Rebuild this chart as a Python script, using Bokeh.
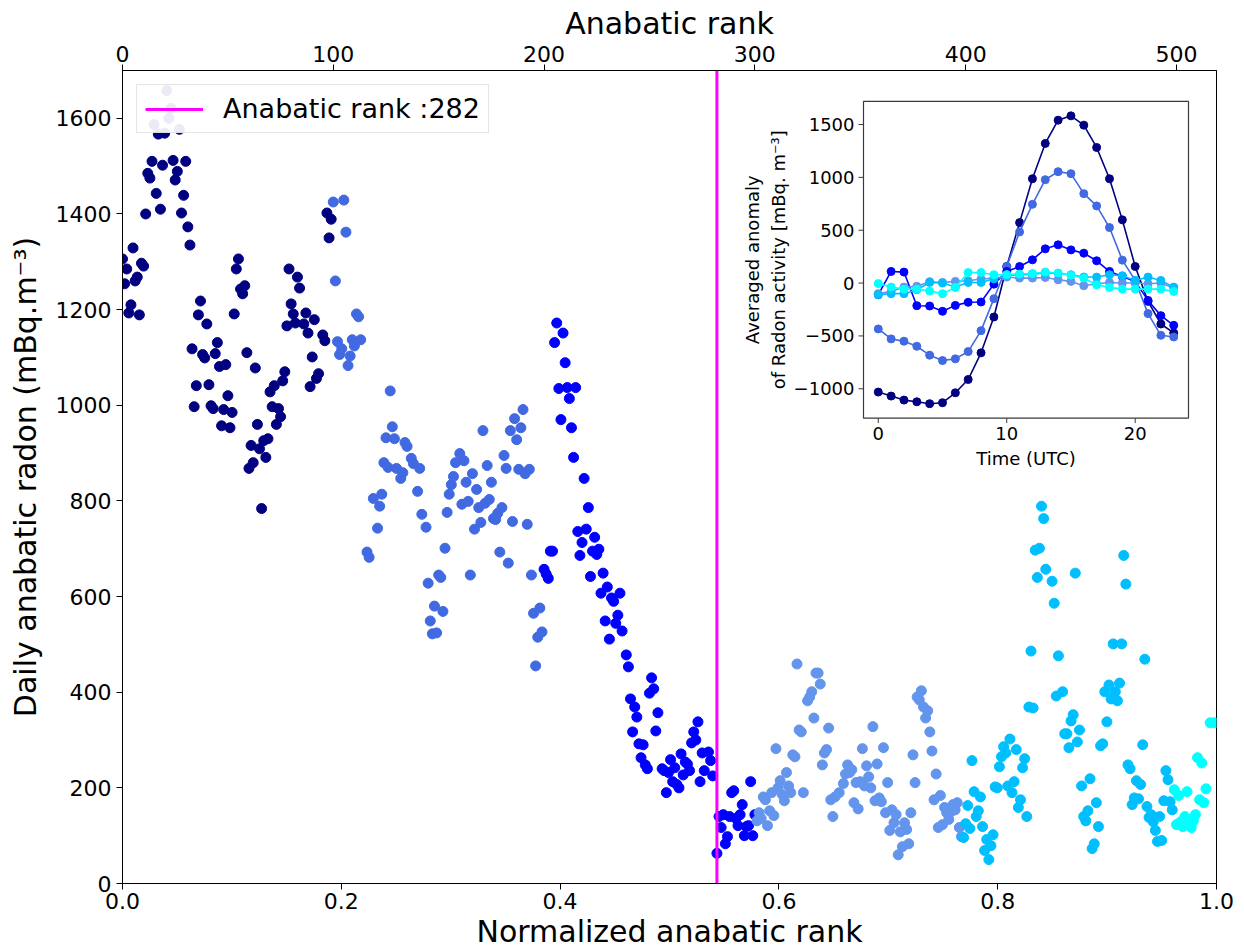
from math import pi
from bokeh.plotting import figure
from bokeh.models import Range1d, LinearAxis, FixedTicker, PrintfTickFormatter
from bokeh.core.properties import value
from bokeh.embed import file_html
from bokeh.resources import INLINE

# ---------------- data ----------------
MAX_RANK = 519
THRESHOLD_RANK = 282

navy_rank = [0, 1, 2, 3, 4, 5, 6, 7, 8, 9, 10, 11, 12, 13, 14, 15, 16, 17, 18, 19,
             20, 21, 22, 23, 24, 25, 26, 27, 28, 29, 30, 31, 32, 33, 34, 35, 36, 37, 38, 39,
             40, 41, 42, 43, 44, 45, 46, 47, 48, 49, 50, 51, 52, 53, 54, 55, 56, 57, 58, 59,
             60, 61, 62, 63, 64, 65, 66, 67, 68, 69, 70, 71, 72, 73, 74, 75, 76, 77, 78, 79,
             80, 81, 82, 83, 84, 86, 87, 88, 89, 90, 91, 92, 93, 95, 96, 97, 98, 99]
navy_radon = [1306, 1254, 1285, 1193, 1210, 1329, 1260, 1268, 1189, 1297, 1291, 1400, 1485, 1475, 1510, 1587, 1443, 1567, 1410, 1502,
              1569, 1658, 1600, 1621, 1512, 1471, 1489, 1577, 1402, 1439, 1510, 1373, 1335, 1118, 997, 1041, 1189, 1218, 1106, 1099,
              1170, 1043, 999, 993, 1108, 1131, 1081, 957, 991, 1085, 1020, 953, 985, 1191, 1285, 1306, 1243, 1233, 1250, 1110,
              868, 916, 880, 1078, 960, 909, 784, 926, 891, 930, 1028, 997, 1041, 960, 993, 976, 1051, 1070, 1166, 1285,
              1212, 1191, 1172, 1268, 1245, 1170, 1193, 1151, 1039, 1101, 1179, 1056, 1066, 1147, 1135, 1402, 1350, 1389]

royal_rank = [100, 101, 102, 103, 104, 105, 106, 107, 108, 109, 110, 111, 112, 113, 116, 117, 119, 121, 122, 123,
              124, 125, 126, 127, 128, 129, 130, 132, 133, 134, 135, 137, 138, 140, 141, 142, 144, 145, 146, 147,
              148, 149, 150, 151, 152, 153, 154, 155, 156, 157, 158, 160, 161, 162, 163, 164, 165, 166, 167, 168,
              169, 170, 171, 172, 173, 174, 175, 176, 177, 178, 179, 180, 181, 182, 183, 184, 185, 186, 187, 188,
              189, 190, 191, 192, 193, 194, 195, 196, 197, 198, 199]
royal_radon = [1425, 1260, 1133, 1106, 1118, 1429, 1362, 1083, 1103, 1137, 1124, 1191, 1185, 1137, 693, 682, 805, 743, 789, 814,
               880, 932, 870, 1030, 955, 930, 868, 847, 859, 922, 914, 889, 878, 820, 868, 772, 745, 628, 549, 522,
               580, 524, 645, 640, 569, 701, 776, 814, 834, 851, 880, 899, 793, 884, 839, 799, 645, 857, 741, 824,
               786, 755, 947, 795, 874, 803, 839, 763, 761, 774, 693, 786, 895, 868, 670, 947, 757, 972, 928, 866,
               953, 991, 857, 751, 866, 645, 565, 455, 515, 576, 526]

blue_rank = [200, 201, 202, 203, 204, 205, 206, 207, 208, 209, 210, 211, 212, 213, 214, 215, 216, 217, 218, 219,
             220, 221, 222, 223, 224, 225, 226, 227, 228, 229, 230, 231, 232, 233, 234, 235, 236, 237, 239, 240,
             241, 242, 243, 244, 245, 246, 247, 248, 249, 250, 251, 252, 253, 254, 256, 257, 258, 259, 260, 261,
             262, 263, 264, 265, 266, 267, 268, 269, 270, 271, 272, 273, 274, 275, 276, 278, 279, 280, 282, 283,
             284, 285, 286, 287, 288, 289, 290, 291, 292, 293, 294, 295, 296, 297, 298, 299, 300]
blue_radon = [657, 647, 638, 695, 695, 1131, 1172, 1035, 970, 1151, 1089, 1037, 1014, 953, 891, 1037, 736, 686, 713, 847,
              741, 786, 642, 695, 724, 688, 699, 607, 649, 549, 620, 511, 597, 590, 544, 561, 607, 528, 478, 453,
              386, 317, 369, 348, 292, 263, 290, 248, 240, 398, 430, 407, 319, 357, 240, 236, 190, 232, 259, 213,
              242, 207, 200, 271, 227, 254, 250, 236, 294, 317, 300, 338, 213, 273, 236, 275, 257, 225, 63, 140,
              117, 144, 83, 98, 140, 190, 194, 136, 121, 144, 165, 100, 119, 121, 213, 100, 144]

corn_rank = [301, 302, 303, 304, 305, 306, 307, 308, 309, 310, 311, 312, 313, 314, 315, 316, 317, 318, 319, 320,
             321, 322, 323, 325, 326, 327, 328, 329, 330, 331, 332, 333, 334, 335, 336, 337, 338, 340, 342, 343,
             344, 345, 346, 347, 348, 349, 350, 351, 352, 353, 354, 355, 356, 357, 358, 359, 360, 361, 362, 363,
             364, 365, 366, 367, 368, 369, 370, 371, 372, 373, 374, 375, 376, 377, 378, 379, 380, 381, 382, 383,
             384, 385, 386, 387, 388, 389, 390, 391, 392, 393, 394, 395, 396, 397, 398]
corn_radon = [131, 148, 136, 181, 175, 121, 152, 190, 142, 282, 200, 215, 186, 173, 232, 204, 190, 269, 265, 459,
              321, 317, 190, 382, 390, 401, 346, 440, 440, 417, 248, 273, 280, 325, 175, 140, 181, 190, 209, 229,
              248, 232, 238, 169, 211, 156, 213, 282, 204, 246, 223, 200, 328, 173, 250, 179, 171, 284, 148, 211,
              111, 154, 127, 144, 60, 108, 77, 127, 113, 83, 148, 269, 211, 390, 384, 403, 369, 346, 361, 317,
              277, 175, 229, 117, 184, 123, 159, 148, 134, 150, 165, 154, 169, 117, 98]

sky_rank = [399, 400, 401, 402, 403, 404, 405, 406, 407, 408, 409, 410, 411, 412, 413, 414, 415, 416, 417, 418,
            419, 420, 421, 422, 423, 424, 425, 426, 427, 428, 429, 430, 431, 432, 433, 434, 435, 436, 437, 438,
            441, 442, 443, 444, 446, 447, 448, 449, 450, 451, 452, 453, 454, 455, 456, 457, 458, 459, 460, 461,
            462, 463, 464, 465, 466, 467, 468, 469, 470, 471, 472, 473, 474, 475, 476, 477, 478, 479, 480, 481,
            482, 483, 484, 485, 486, 487, 488, 489, 490, 491, 492, 493, 494, 495, 496, 497, 498]
sky_radon = [96, 125, 163, 115, 257, 192, 140, 152, 181, 119, 69, 92, 50, 79, 102, 202, 200, 244, 265, 286,
             273, 204, 302, 190, 213, 280, 159, 175, 242, 261, 140, 369, 486, 367, 697, 640, 701, 789, 763, 657,
             632, 586, 392, 476, 401, 313, 313, 284, 340, 353, 649, 296, 321, 204, 140, 131, 152, 219, 73, 83,
             169, 119, 288, 292, 401, 338, 415, 386, 501, 401, 382, 419, 501, 686, 626, 248, 240, 165, 179, 215,
             177, 207, 290, 469, 161, 138, 144, 129, 111, 88, 140, 90, 173, 236, 217, 171, 154]

cyan_rank = [499, 500, 501, 502, 503, 504, 505, 506, 507, 508, 509, 510, 511, 512, 513, 514, 516, 518]
cyan_radon = [196, 123, 184, 129, 119, 140, 192, 134, 117, 131, 144, 263, 175, 252, 169, 198, 336, 336]

# inset: averaged daily anomaly per cluster (hours 0..23)
hours = list(range(24))
anom_navy = [-1031, -1069, -1107, -1123, -1141, -1132, -1038, -912, -660, -321, 157, 572,
             987, 1321, 1541, 1582, 1494, 1283, 987, 598, 157, -173, -387, -472]
anom_royal = [-434, -528, -550, -598, -682, -733, -717, -648, -450, -148, 157, 484,
              745, 978, 1054, 1035, 846, 730, 525, 217, 25, -289, -494, -510]
anom_blue = [-110, 110, 104, -214, -217, -267, -211, -182, -179, -10, 110, 157,
             220, 324, 362, 314, 283, 211, 110, 63, 16, -164, -308, -400]
anom_corn = [-100, -80, -38, -31, 13, 6, 16, 22, 38, 47, 57, 47,
             47, 53, 31, 16, -25, -6, 6, 0, 0, -6, 0, -47]
anom_sky = [-110, -100, -100, -63, 6, 0, -38, 6, 6, 40, 70, 80,
            85, 95, 90, 79, 57, 57, 79, 70, 25, 57, 25, -38]
anom_cyan = [-5, -38, -57, -57, -75, -100, -41, 100, 100, 79, 80, 85,
             90, 104, 95, 75, 47, -16, -41, -57, -57, -57, -57, -79]

COLORS = ["#000080", "#4169E1", "#0000FF", "#6495ED", "#00BFFF", "#00FFFF"]
scatter_sets = [(navy_rank, navy_radon), (royal_rank, royal_radon), (blue_rank, blue_radon),
                (corn_rank, corn_radon), (sky_rank, sky_radon), (cyan_rank, cyan_radon)]
inset_sets = [anom_navy, anom_royal, anom_blue, anom_corn, anom_sky, anom_cyan]

FONT = "DejaVu Sans"

# ---------------- main figure ----------------
W, H = 1244, 951
ML, MR, MT, MB = 122, 28, 70, 67
p = figure(width=W, height=H, x_range=Range1d(0, 1), y_range=Range1d(0, 1700),
           output_backend="svg", toolbar_location=None,
           min_border_left=ML, min_border_right=MR, min_border_top=MT, min_border_bottom=MB)
p.grid.visible = False
p.outline_line_color = "black"
p.outline_line_width = 1
p.background_fill_color = "white"
p.border_fill_color = "white"

p.extra_x_ranges = {"rank": Range1d(0, MAX_RANK)}

def style_axis(ax, label):
    ax.axis_label = label
    ax.axis_label_text_font = FONT
    ax.axis_label_text_font_size = "30px"
    ax.axis_label_text_font_style = "normal"
    ax.axis_label_text_color = "black"
    ax.major_label_text_font = FONT
    ax.major_label_text_font_size = "22px"
    ax.major_label_text_color = "black"
    ax.major_tick_out = 6
    ax.major_tick_in = 0
    ax.minor_tick_line_color = None
    ax.axis_line_color = "black"
    ax.major_tick_line_color = "black"

xb = p.xaxis[0]
style_axis(xb, "Normalized anabatic rank")
xb.ticker = FixedTicker(ticks=[0, 0.2, 0.4, 0.6, 0.8, 1.0])
xb.formatter = PrintfTickFormatter(format="%.1f")
xb.major_label_standoff = 3
xb.axis_label_standoff = 2

yl = p.yaxis[0]
style_axis(yl, "Daily anabatic radon (mBq.m⁻³)")
yl.ticker = FixedTicker(ticks=list(range(0, 1601, 200)))
yl.major_label_standoff = 5
yl.axis_label_standoff = 10

top = LinearAxis(x_range_name="rank")
style_axis(top, "Anabatic rank")
top.ticker = FixedTicker(ticks=[0, 100, 200, 300, 400, 500])
top.major_label_standoff = 3
top.axis_label_standoff = 2
p.add_layout(top, "above")

for (rk, rv), col in zip(scatter_sets, COLORS):
    xs = [r / MAX_RANK for r in rk]
    p.scatter(xs, rv, size=10, fill_color=col, line_color=col, line_width=1)

xv = THRESHOLD_RANK / MAX_RANK
p.line([xv, xv], [-200, 2000], line_color="#FF00FF", line_width=3,
       legend_label="Anabatic rank :%d" % THRESHOLD_RANK)

lg = p.legend[0]
lg.location = "top_left"
lg.margin = 14
lg.padding = 8
lg.label_text_font = FONT
lg.label_text_font_size = "27px"
lg.label_text_color = "black"
lg.glyph_width = 58
lg.glyph_height = 30
lg.label_height = 30
lg.label_standoff = 20
lg.border_line_color = "#cccccc"
lg.border_line_width = 1
lg.background_fill_alpha = 0.92

# ---------------- inset (drawn on extra ranges) ----------------
all_anom = [v for s in inset_sets for v in s]
xspan = hours[-1] - hours[0]
xlim0, xlim1 = hours[0] - 0.05 * xspan, hours[-1] + 0.05 * xspan
ymin, ymax = min(all_anom), max(all_anom)
yspan = ymax - ymin
ylim0, ylim1 = ymin - 0.05 * yspan, ymax + 0.05 * yspan

FL, FT, FR, FB = ML, MT, W - MR, H - MB           # frame in canvas px
BL, BT, BR, BB = 863, 101, 1188, 418              # inset box in canvas px
kx = (BR - BL) / (xlim1 - xlim0)
ky = (BB - BT) / (ylim1 - ylim0)
p.extra_x_ranges["ix"] = Range1d(xlim0 - (BL - FL) / kx, xlim1 + (FR - BR) / kx)
p.extra_y_ranges["iy"] = Range1d(ylim0 - (FB - BB) / ky, ylim1 + (BT - FT) / ky)
R = dict(x_range_name="ix", y_range_name="iy")

p.quad(left=[xlim0], right=[xlim1], bottom=[ylim0], top=[ylim1],
       fill_color="white", line_color="#3a3a3a", line_width=1.2, **R)

for s, col in zip(inset_sets, COLORS):
    p.line(hours, s, line_color=col, line_width=1.6, **R)
    p.scatter(hours, s, size=8, fill_color=col, line_color=col, **R)

ytk = [-1000, -500, 0, 500, 1000, 1500]
xtk = [0, 10, 20]
tick = 5
p.segment(x0=[xlim0] * len(ytk), x1=[xlim0 - tick / kx] * len(ytk), y0=ytk, y1=ytk,
          line_color="#3a3a3a", line_width=1, **R)
p.segment(x0=xtk, x1=xtk, y0=[ylim0] * len(xtk), y1=[ylim0 - tick / ky] * len(xtk),
          line_color="#3a3a3a", line_width=1, **R)
p.text(x=[xlim0] * len(ytk), y=ytk, text=[str(v).replace("-", "−") for v in ytk],
       x_offset=-9, text_align="right", text_baseline="middle",
       text_font=value(FONT), text_font_size="18px", text_color="black", **R)
p.text(x=xtk, y=[ylim0] * len(xtk), text=[str(v) for v in xtk],
       y_offset=9, text_align="center", text_baseline="top",
       text_font=value(FONT), text_font_size="18px", text_color="black", **R)
p.text(x=[(xlim0 + xlim1) / 2], y=[ylim0], text=["Time (UTC)"],
       y_offset=40, text_align="center", text_baseline="middle",
       text_font=value(FONT), text_font_size="18px", text_color="black", **R)
p.text(x=[xlim0, xlim0], y=[(ylim0 + ylim1) / 2] * 2,
       text=["Averaged anomaly", "of Radon activity [mBq. m⁻³]"],
       x_offset=[-111, -85], angle=pi / 2, text_align="center", text_baseline="middle",
       text_font=value(FONT), text_font_size="18px", text_color="black", **R)

open("out.html", "w").write(file_html(p, INLINE))
